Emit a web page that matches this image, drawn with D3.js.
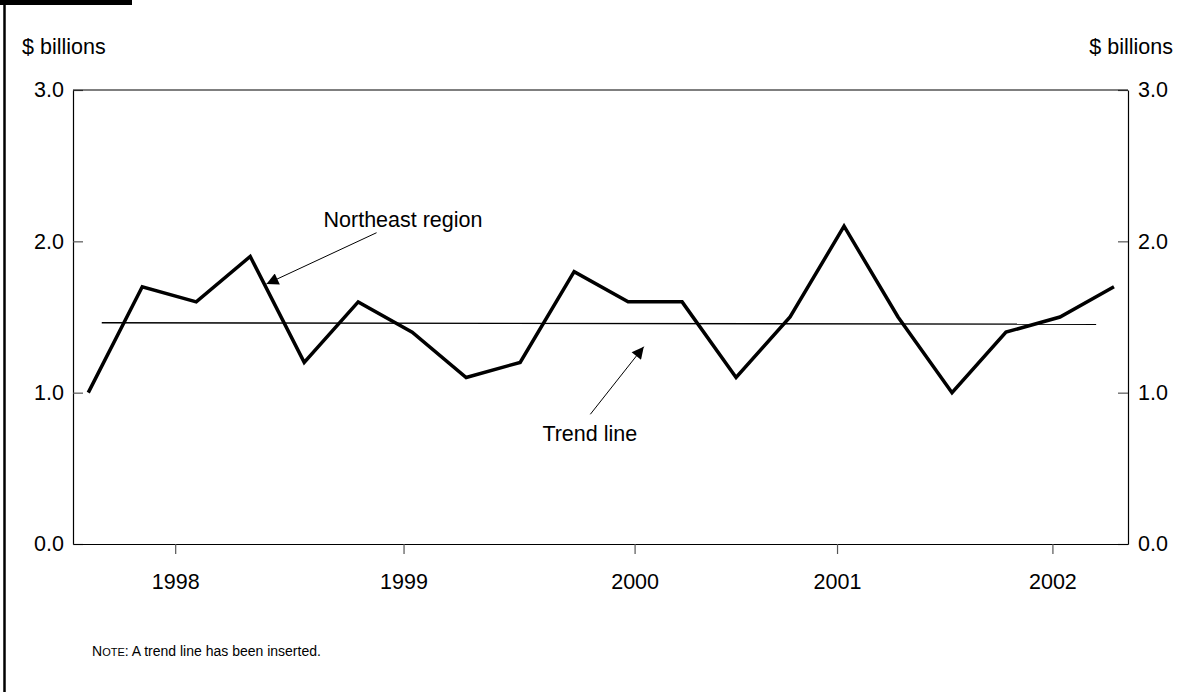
<!DOCTYPE html>
<html lang="en">
<head>
    <meta charset="UTF-8">
    <title>Northeast region</title>
    <style>
        body { margin: 0; background: #fff; }
        svg text { font-family: Arial, "Liberation Sans", sans-serif; fill: #000; }
    </style>
</head>
<body>
    <div class="container"></div>
    <script src="https://cdn.jsdelivr.net/npm/d3@7/dist/d3.min.js"></script>
    <script>
        // quarterly values, 1997 Q3 through 2002 Q2
        const quarters = ["1997Q3", "1997Q4", "1998Q1", "1998Q2", "1998Q3", "1998Q4",
                          "1999Q1", "1999Q2", "1999Q3", "1999Q4", "2000Q1", "2000Q2",
                          "2000Q3", "2000Q4", "2001Q1", "2001Q2", "2001Q3", "2001Q4",
                          "2002Q1", "2002Q2"]
        const northeast = [1.0, 1.7, 1.6, 1.9, 1.2, 1.6, 1.4, 1.1, 1.2, 1.8,
                           1.6, 1.6, 1.1, 1.5, 2.1, 1.5, 1.0, 1.4, 1.5, 1.7]

        // trend line end points: [quarter index, value]
        const trendLine = [[0.25, 1.462], [18.67, 1.452]]

        // year ticks sit between quarters (index units)
        const yearTickPos = [1.61, 5.84, 10.12, 13.87, 17.86]
        const yearLabels = ["1998", "1999", "2000", "2001", "2002"]

        const yTicks = [0, 1, 2, 3]

        const width = 1194
        const height = 692
        const plot = { left: 73, right: 1128, top: 90, bottom: 544 }
        const fontSize = 21.5

        const svg = d3.select('.container').append("svg")
            .attr("width", width)
            .attr("height", height)

        // page furniture: black tab and left rule
        svg.append("rect").attr("x", 0).attr("y", 0).attr("width", 132).attr("height", 5).attr("fill", "#000")
        svg.append("line").attr("x1", 4.5).attr("x2", 4.5).attr("y1", 0).attr("y2", height)
            .attr("stroke", "#000").attr("stroke-width", 2.5)

        const x = d3.scaleLinear()
            .domain([-0.283, 19.26])
            .range([plot.left, plot.right])

        const y = d3.scaleLinear()
            .domain([0, 3])
            .range([plot.bottom, plot.top])

        const fmt = d3.format(".1f")

        const leftAxis = d3.axisLeft(y).tickValues(yTicks).tickFormat(fmt)
            .tickSizeInner(-10).tickSizeOuter(0).tickPadding(9)
        const rightAxis = d3.axisRight(y).tickValues(yTicks).tickFormat(fmt)
            .tickSizeInner(-10).tickSizeOuter(0).tickPadding(10)
        const bottomAxis = d3.axisBottom(x).tickValues(yearTickPos)
            .tickFormat((d, i) => yearLabels[i])
            .tickSizeInner(10).tickSizeOuter(0).tickPadding(20)

        const gLeft = svg.append("g").attr("transform", `translate(${plot.left},0)`).call(leftAxis)
        const gRight = svg.append("g").attr("transform", `translate(${plot.right},0)`).call(rightAxis)
        const gBottom = svg.append("g").attr("transform", `translate(0,${plot.bottom})`).call(bottomAxis)

        // top edge of the frame
        svg.append("line")
            .attr("x1", plot.left).attr("x2", plot.right)
            .attr("y1", plot.top).attr("y2", plot.top)
            .attr("stroke", "#000").attr("stroke-width", 1.2)

        for (const g of [gLeft, gRight, gBottom]) {
            g.select(".domain").attr("stroke", "#000").attr("stroke-width", 1.2)
            g.selectAll(".tick line").attr("stroke", "#555").attr("stroke-width", 1.2)
            g.selectAll(".tick text")
                .attr("font-size", fontSize)
                .attr("font-family", 'Arial, "Liberation Sans", sans-serif')
                .attr("fill", "#000")
        }

        // unit labels
        svg.append("text").attr("x", 22).attr("y", 54).attr("font-size", fontSize).text("$ billions")
        svg.append("text").attr("x", 1173).attr("y", 54).attr("font-size", fontSize)
            .attr("text-anchor", "end").text("$ billions")

        // trend line
        const line = d3.line().x(d => x(d[0])).y(d => y(d[1]))
        svg.append("path")
            .datum(trendLine)
            .attr("d", line)
            .attr("fill", "none")
            .attr("stroke", "#000")
            .attr("stroke-width", 1.3)

        // series
        const seriesLine = d3.line()
            .x((d, i) => x(i))
            .y(d => y(d))
        svg.append("path")
            .datum(northeast)
            .attr("d", seriesLine)
            .attr("fill", "none")
            .attr("stroke", "#000")
            .attr("stroke-width", 3.5)
            .attr("stroke-linejoin", "miter")

        // arrows
        svg.append("defs").append("marker")
            .attr("id", "head")
            .attr("viewBox", "0 0 10 10")
            .attr("refX", 10).attr("refY", 5)
            .attr("markerWidth", 16).attr("markerHeight", 12)
            .attr("markerUnits", "userSpaceOnUse")
            .attr("orient", "auto")
            .append("path").attr("d", "M0,0 L10,5 L0,10 Z").attr("fill", "#000")

        const notes = [
            { text: "Northeast region", tx: 5.83, ty: 2.097, from: [5.34, 2.057], to: [3.30, 1.718] },
            { text: "Trend line", tx: 9.29, ty: 0.683, from: [9.30, 0.857], to: [10.29, 1.304] }
        ]

        notes.forEach(n => {
            svg.append("line")
                .attr("x1", x(n.from[0])).attr("y1", y(n.from[1]))
                .attr("x2", x(n.to[0])).attr("y2", y(n.to[1]))
                .attr("stroke", "#000").attr("stroke-width", 1)
                .attr("marker-end", "url(#head)")
            svg.append("text")
                .attr("x", x(n.tx)).attr("y", y(n.ty))
                .attr("text-anchor", "middle")
                .attr("font-size", fontSize)
                .text(n.text)
        })

        // footnote
        const note = svg.append("text").attr("x", 92).attr("y", 656).attr("font-size", 14)
        note.append("tspan").text("N")
        note.append("tspan").attr("font-size", 11).text("OTE")
        note.append("tspan").text(": A trend line has been inserted.")
    </script>
</body>
</html>
